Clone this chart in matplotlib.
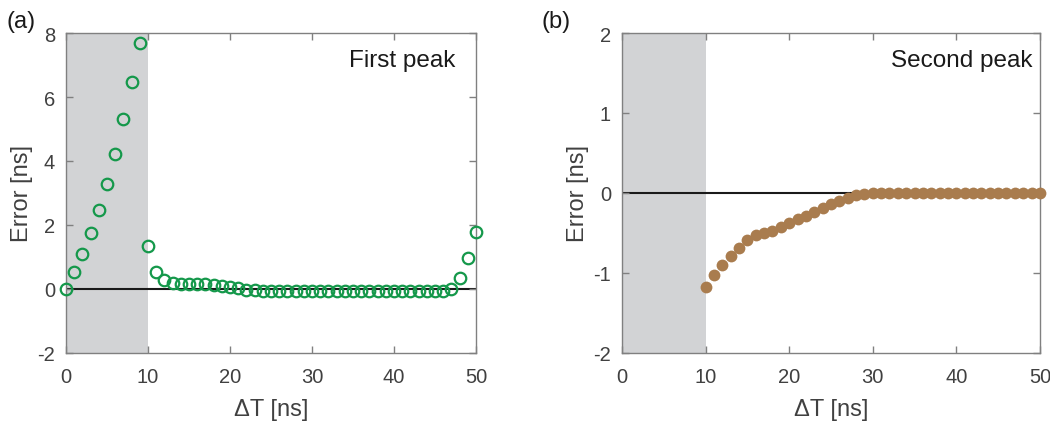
import matplotlib
matplotlib.use("Agg")
import matplotlib.pyplot as plt
import numpy as np

plt.rcParams['font.family'] = ['Liberation Sans', 'DejaVu Sans']
plt.rcParams['axes.unicode_minus'] = False

dT = list(range(0, 51))
err_first = [0.0, 0.52, 1.09, 1.75, 2.48, 3.28, 4.22, 5.30, 6.47, 7.68,
             1.35, 0.52, 0.28, 0.19, 0.17, 0.17, 0.16, 0.15, 0.13, 0.10,
             0.07, 0.02, -0.02, -0.04, -0.05, -0.05, -0.05, -0.05, -0.05, -0.05,
             -0.05, -0.05, -0.05, -0.05, -0.05, -0.05, -0.05, -0.05, -0.05, -0.05,
             -0.05, -0.05, -0.05, -0.05, -0.05, -0.05, -0.05, 0.0, 0.34, 0.97, 1.77]
dT2 = list(range(10, 51))
err_second = [-1.17, -1.025, -0.90, -0.79, -0.69, -0.59, -0.525, -0.505, -0.48, -0.43,
              -0.375, -0.33, -0.29, -0.24, -0.19, -0.14, -0.095, -0.06, -0.03, -0.01,
              -0.005, 0.0, 0.0, 0.0, 0.0, 0.0, 0.0, 0.0, 0.0, 0.0,
              0.0, 0.0, 0.0, 0.0, 0.0, 0.0, 0.0, 0.0, 0.0, 0.0, 0.0]

green = '#14984a'
brown = '#a97c4e'
shade = '#d2d3d5'
spine = '#808080'
txt = '#404040'

fig = plt.figure(figsize=(10.5, 4.31), dpi=100)
ax1 = fig.add_axes([0.0629, 0.1787, 0.3905, 0.7424])
ax2 = fig.add_axes([0.5924, 0.1787, 0.398, 0.7424])

def style(ax):
    for s in ax.spines.values():
        s.set_color(spine)
        s.set_linewidth(1.0)
    ax.tick_params(direction='in', top=True, right=True, color=spine,
                   labelcolor=txt, labelsize=14.5, length=5, width=1.0)
    ax.tick_params(axis='x', pad=10)
    ax.tick_params(axis='y', pad=8)
    ax.set_xlim(0, 50)
    ax.set_xticks([0, 10, 20, 30, 40, 50])
    ax.set_xlabel('ΔT [ns]', fontsize=17, color=txt, labelpad=9)
    ax.set_ylabel('Error [ns]', fontsize=17, color=txt, labelpad=3)
    ax.axvspan(0, 10, color=shade, zorder=0, lw=0)
    ax.axhline(0, color='#1a1a1a', lw=1.5, zorder=1)

style(ax1)
ax1.set_ylim(-2, 8)
ax1.set_yticks([-2, 0, 2, 4, 6, 8])
ax1.plot(dT, err_first, 'o', mfc='none', mec=green, ms=8.3, mew=1.6, zorder=3, clip_on=False)
ax1.text(0.95, 0.916, 'First peak', transform=ax1.transAxes, ha='right', va='center',
         fontsize=17.5, color='#1a1a1a')

style(ax2)
ax2.set_ylim(-2, 2)
ax2.set_yticks([-2, -1, 0, 1, 2])
ax2.plot(dT2, err_second, 'o', color=brown, ms=8.5, mew=0, zorder=3, clip_on=False)
ax2.text(0.983, 0.916, 'Second peak', transform=ax2.transAxes, ha='right', va='center',
         fontsize=17.5, color='#1a1a1a')

fig.text(0.006, 0.949, '(a)', fontsize=17, color='#1a1a1a', va='center')
fig.text(0.516, 0.949, '(b)', fontsize=17, color='#1a1a1a', va='center')

fig.savefig('out.png', dpi=100)
